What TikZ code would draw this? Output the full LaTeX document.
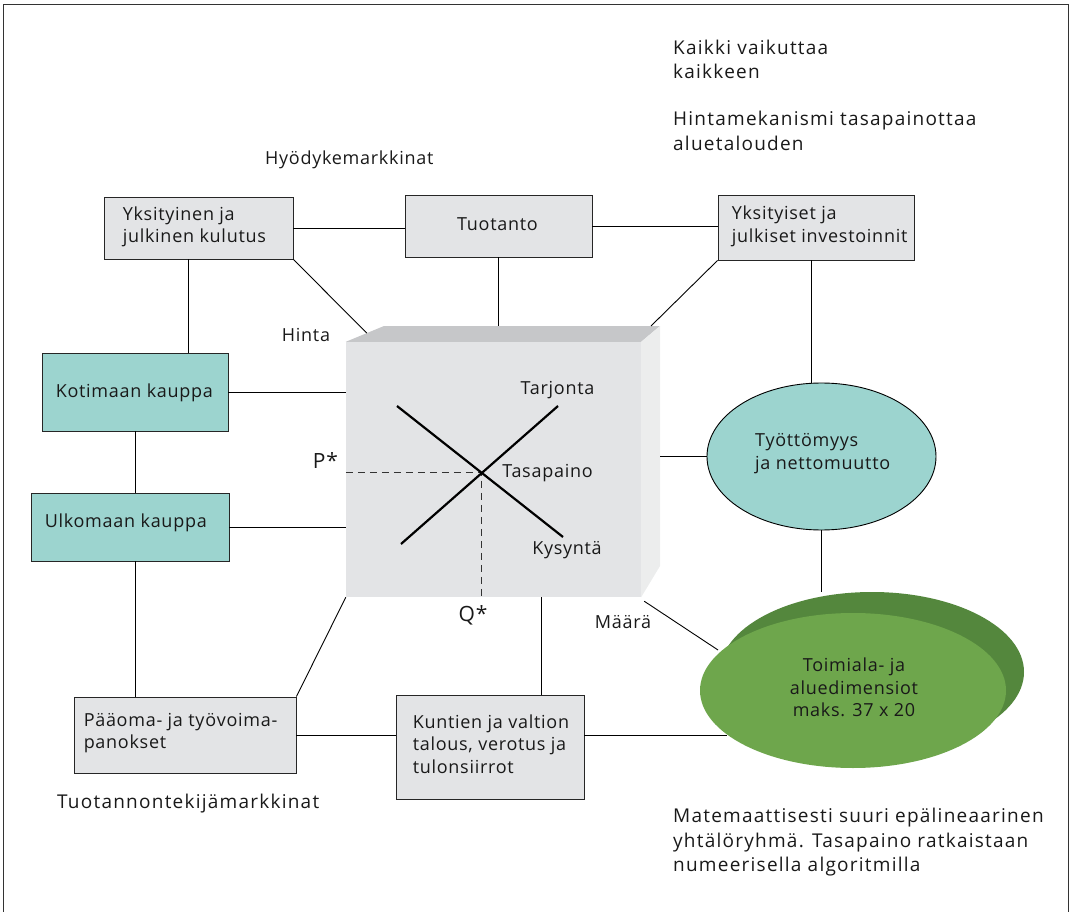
\documentclass[tikz,border=0pt]{standalone}
\usepackage{fontspec}
\setmainfont{Open Sans}
\newfontfamily\normf[LetterSpace=4]{Open Sans}
\newfontfamily\bigf[LetterSpace=6.5]{Open Sans}
\usetikzlibrary{shapes.geometric,calc}
\definecolor{boxgray}{HTML}{E3E4E6}
\definecolor{teal}{HTML}{9CD4CF}
\definecolor{topgray}{HTML}{C6C7C9}
\definecolor{sidegray}{HTML}{ECEDED}
\definecolor{glight}{HTML}{6EA64C}
\definecolor{gdark}{HTML}{54873D}
\begin{document}
\begin{tikzpicture}[x=1pt,y=-1pt,
  every node/.style={font=\normf\fontsize{18}{22.5}\selectfont, inner sep=0pt},
  box/.style={draw=black!85, line width=0.9pt, fill=boxgray},
  tbox/.style={draw=black!85, line width=0.9pt, fill=teal},
  txt/.style={align=left, text=black!90},
  bigtxt/.style={align=left, text=black!90, font=\bigf\fontsize{19}{24.5}\selectfont},
  startxt/.style={text=black!90, font=\normf\fontsize{21}{24}\selectfont},
  conn/.style={line width=0.9pt, black},
  curve/.style={line width=2.2pt, black},
  guide/.style={line width=1pt, dash pattern=on 7pt off 5pt, black!80}]
\useasboundingbox (0,0) rectangle (1069,912);
\draw[line width=1pt, black!80] (3,930) -- (3,5) -- (1068,5) -- (1068,930);

% boxes
\node[box, minimum width=189, minimum height=62] (A) at (198.5,228) {};
\node[box, minimum width=187, minimum height=62] (B) at (498.5,226) {};
\node[box, minimum width=196, minimum height=65] (C) at (816,227.5) {};
\node[tbox, minimum width=186, minimum height=78] (D) at (135,392) {};
\node[tbox, minimum width=198, minimum height=68] (E) at (130,527) {};
\node[box, minimum width=222, minimum height=76] (F) at (185,735) {};
\node[box, minimum width=188, minimum height=104] (G) at (490,747) {};

\node[txt, anchor=west] (At) at ($(A.west)+(19,-1)$) {Yksityinen ja\\julkinen kulutus};
\node[txt] (Bt) at ($(B.center)+(-1,-2)$) {Tuotanto};
\node[txt, anchor=west] (Ct) at ($(C.west)+(14,-1)$) {Yksityiset ja\\julkiset investoinnit};
\node[txt, anchor=west] (Dt) at ($(D.west)+(14,1)$) {Kotimaan kauppa};
\node[txt, anchor=west] (Et) at ($(E.west)+(14,-4)$) {Ulkomaan kauppa};
\node[txt, anchor=west] (Ft) at ($(F.west)+(10,-2)$) {Pääoma- ja työvoima-\\panokset};
\node[txt, anchor=west] (Gt) at ($(G.west)+(17,-3)$) {Kuntien ja valtion\\talous, verotus ja\\tulonsiirrot};

% cube
\node[fill=boxgray, minimum width=295, minimum height=255] (cube) at (493.5,469.5) {};
\coordinate (tb1) at (384,326);
\coordinate (tb2) at (660,326);
\coordinate (rb) at (660,566);
\fill[topgray] (cube.north west) -- (tb1) -- (tb2) -- (cube.north east) -- cycle;
\fill[sidegray] (cube.north east) -- (tb2) -- (rb) -- (cube.south east) -- cycle;

% ellipses
\node[ellipse, draw=black, line width=0.9pt, fill=teal, minimum width=229, minimum height=147] (U) at (821.5,456.5) {};
\node[txt, anchor=west] (Ut) at (755,453.5) {Työttömyys\\ja nettomuutto};
\node[ellipse, fill=gdark, minimum width=304, minimum height=160] (GB) at (872,672) {};
\node[ellipse, fill=glight, minimum width=306, minimum height=155] (GF) at (853,690.5) {};
\node[align=center, text=black!90] (GFt) at (854,687.5) {Toimiala- ja\\aluedimensiot\\maks. 37 x 20};

% supply/demand
\coordinate (s1) at (401,544);
\coordinate (s2) at (558,406);
\coordinate (d1) at (397,406);
\coordinate (d2) at (563,537);
\coordinate (eq) at (intersection of s1--s2 and d1--d2);
\draw[guide] (cube.west |- eq) -- (eq) -- (eq |- cube.south);
\draw[curve] (s1) -- (s2);
\draw[curve] (d1) -- (d2);
\node[txt] (tarj) at (557.5,390) {Tarjonta};
\node[txt] (tasa) at (547.5,473) {Tasapaino};
\node[txt] (kys) at (567,550) {Kysyntä};
\node[startxt] (pst) at (325.5,461) {P*};
\node[startxt] (qst) at (473,615) {Q*};
\node[txt] (hinta) at (306,335) {Hinta};
\node[txt] (maara) at (623,622) {Määrä};

% connectors
\coordinate (gl) at (727,735);
\coordinate (gm) at (718,650);
\draw[conn] (A.east) -- (B.west |- A.east);
\draw[conn] (B.east) -- (C.west |- B.east);
\draw[conn] ([xshift=-10.5pt]A.south) -- ([xshift=-10.5pt]A.south |- D.north);
\draw[conn] (A.south east) -- ($(cube.north west)!0.55!(tb1)$);
\draw[conn] (B.south) -- (B.south |- tb1);
\draw[conn] (C.south west) -- ($(tb2)+(-9,0)$);
\draw[conn] ([xshift=-5pt]C.south) -- ([xshift=-5pt]C.south |- U.north);
\draw[conn] (D.east) -- (cube.west |- D.east);
\draw[conn] (E.east) -- (cube.west |- E.east);
\draw[conn] (D.south) -- (D.south |- E.north);
\draw[conn] (E.south -| D.south) -- (F.north -| D.south);
\draw[conn] (cube.south west) -- (F.north east);
\draw[conn] ([xshift=51pt]G.north) -- ([xshift=51pt]G.north |- cube.south);
\draw[conn] (F.east) -- (F.east -| G.west);
\draw[conn] ($(G.east)+(0,-12)$) -- (gl);
\draw[conn] (U.west) -- (U.west -| tb2);
\draw[conn] (U.south) -- (U.south |- GB.north);
\draw[conn] ($(cube.south east)+(3,4)$) -- (gm);

% free texts
\node[bigtxt, anchor=west] (t1) at (673,59.5) {Kaikki vaikuttaa\\kaikkeen};
\node[bigtxt, anchor=west] (t2) at (673,131) {Hintamekanismi tasapainottaa\\aluetalouden};
\node[txt, anchor=west] (t3) at (265,160) {Hyödykemarkkinat};
\node[bigtxt, anchor=west] (t4) at (57,804) {Tuotannontekijämarkkinat};
\node[bigtxt, anchor=west] (t5) at (673,842.5) {Matemaattisesti suuri epälineaarinen\\yhtälöryhmä. Tasapaino ratkaistaan\\numeerisella algoritmilla};
\end{tikzpicture}
\end{document}
